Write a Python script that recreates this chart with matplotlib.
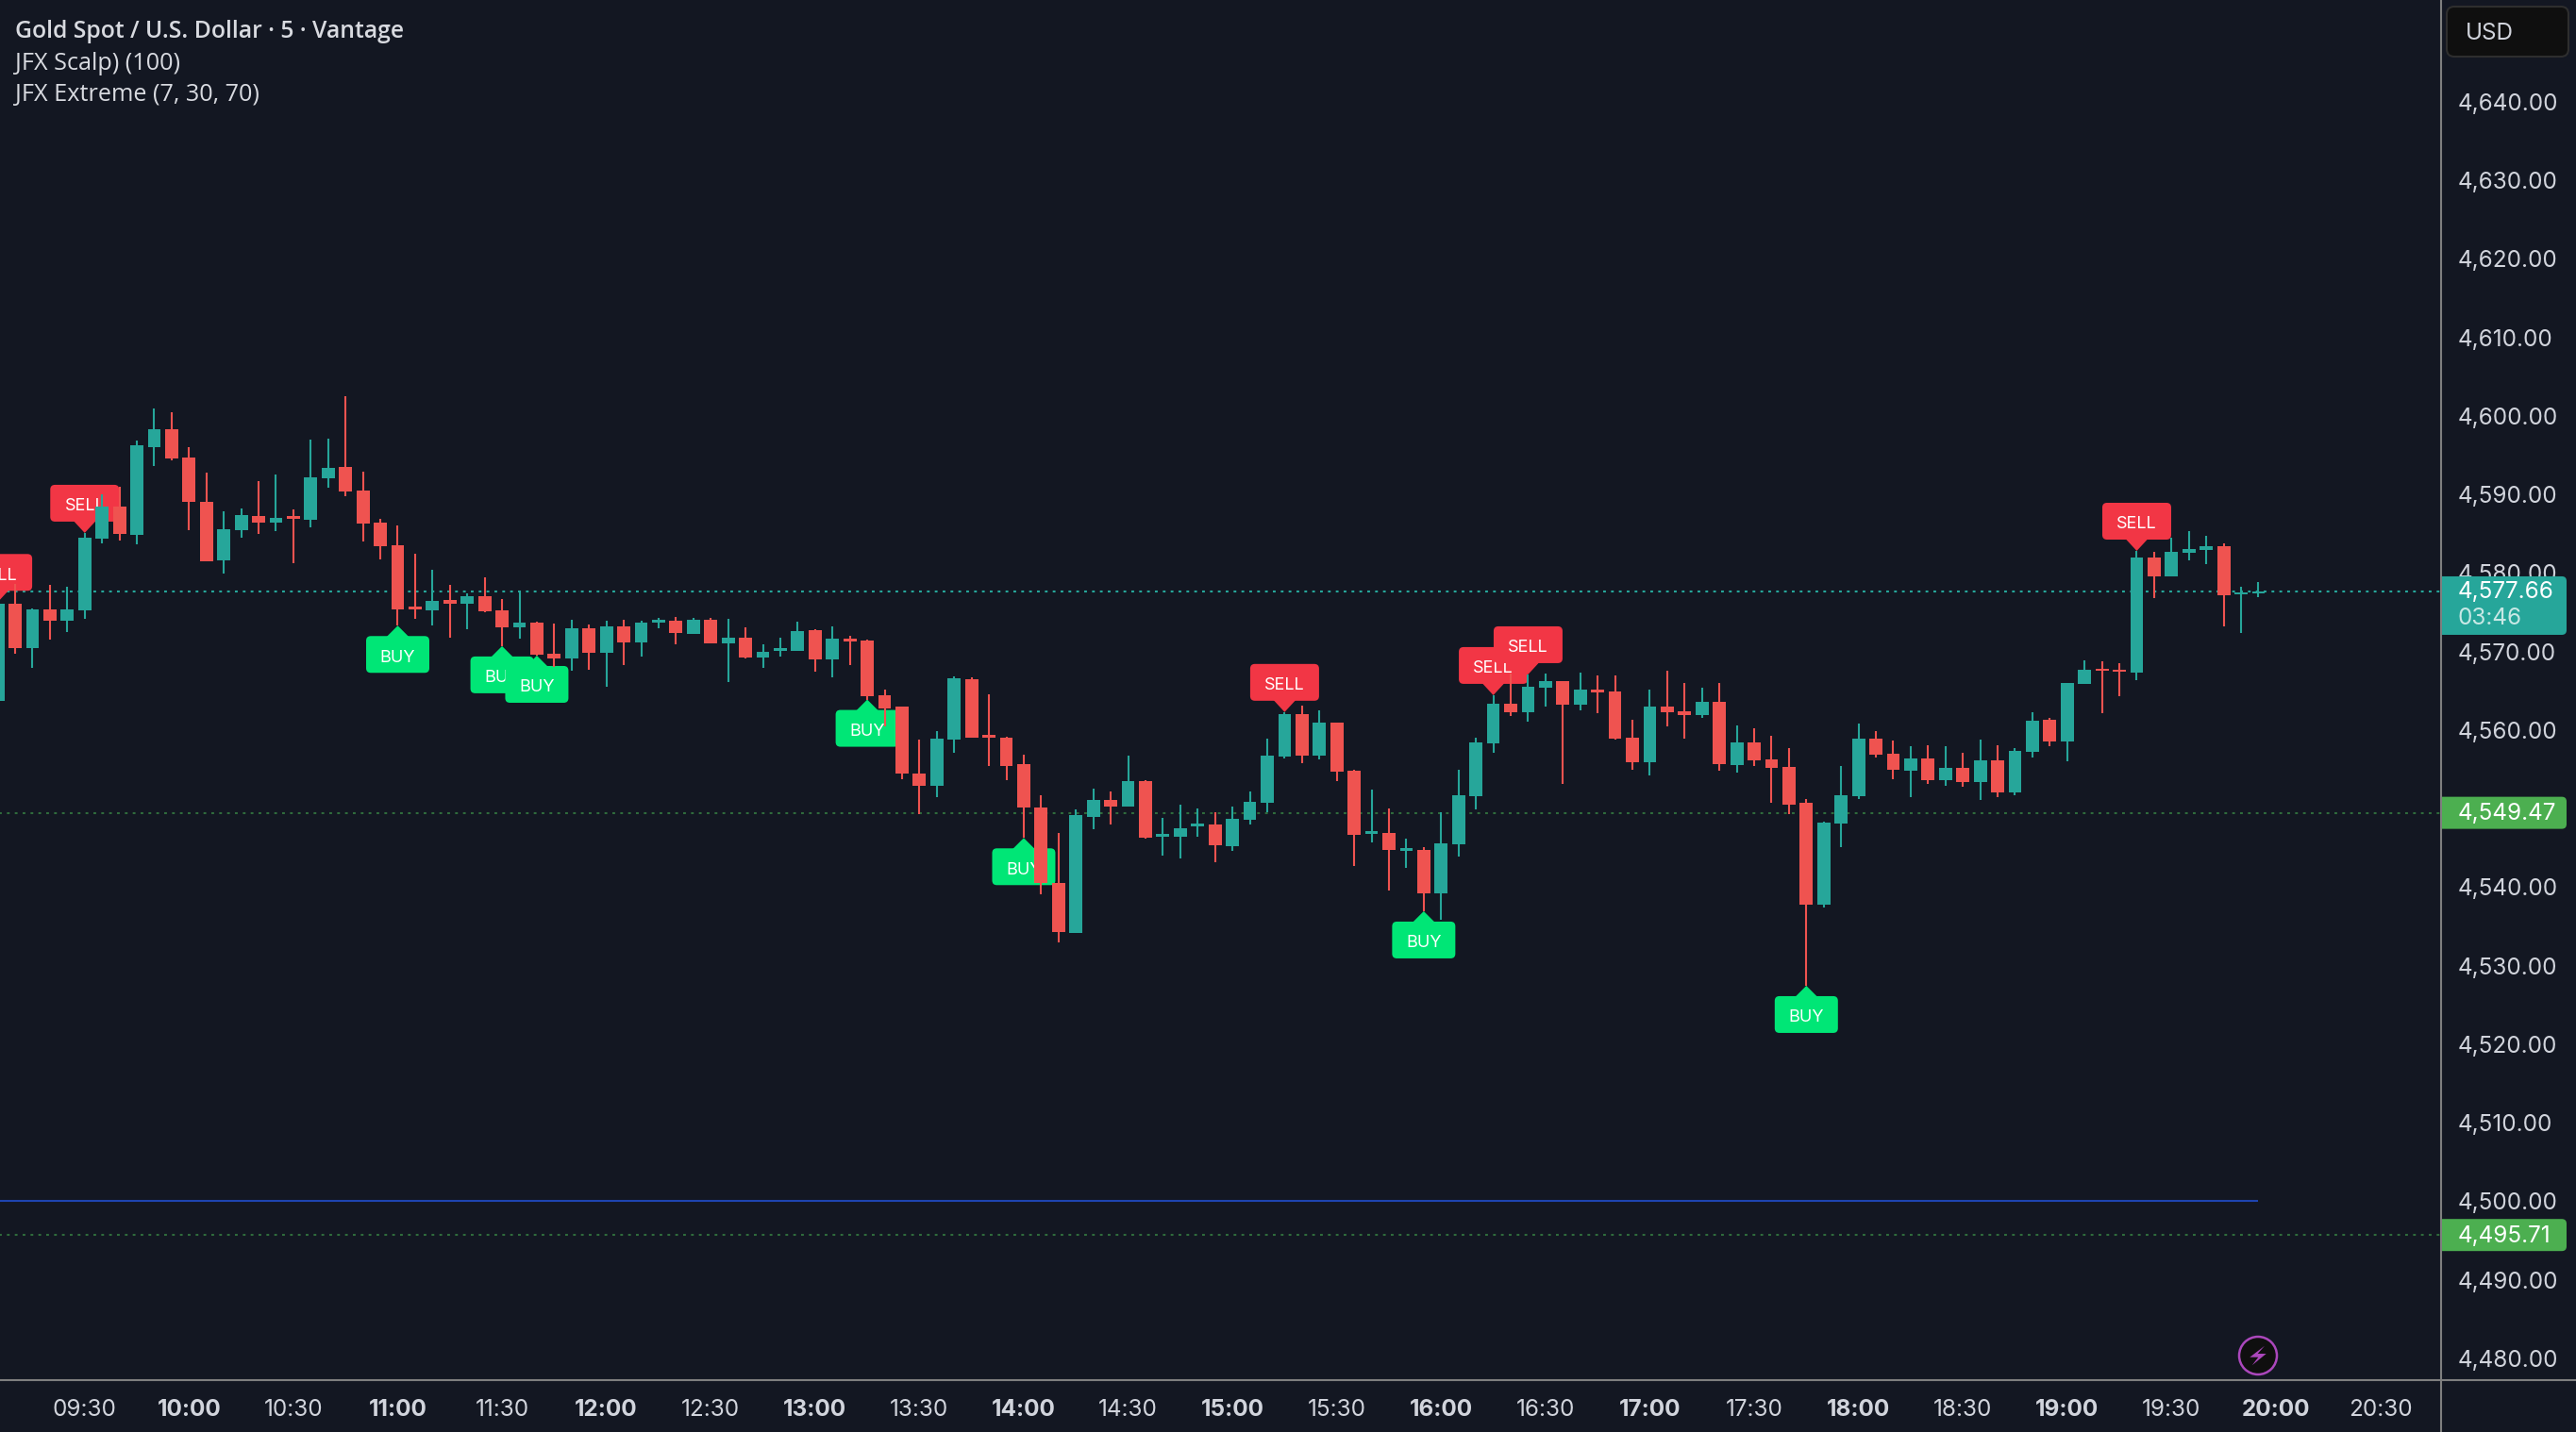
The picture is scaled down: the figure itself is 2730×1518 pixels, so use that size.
import matplotlib
matplotlib.use('Agg')
import matplotlib.pyplot as plt
from matplotlib.patches import FancyBboxPatch, Polygon, Circle
from matplotlib.transforms import Affine2D, Bbox

# 5 minute candles, 09:05 to 19:55
opens = [4563.77, 4576.10, 4570.46, 4575.38, 4573.94, 4575.26, 4584.39, 4588.47, 4584.87, 4596.04,
         4598.32, 4594.72, 4589.07, 4581.63, 4585.47, 4587.27, 4586.43, 4587.15, 4586.79, 4592.08,
         4593.52, 4590.52, 4586.43, 4583.55, 4575.62, 4575.26, 4576.58, 4576.10, 4577.06, 4575.26,
         4573.10, 4573.70, 4569.74, 4569.13, 4572.98, 4569.85, 4573.22, 4571.18, 4573.70, 4573.94,
         4572.25, 4574.06, 4571.05, 4571.77, 4569.25, 4570.09, 4570.09, 4572.73, 4569.01, 4571.65,
         4571.41, 4564.45, 4563.00, 4554.48, 4552.91, 4558.80, 4566.49, 4559.28, 4559.04, 4555.68,
         4550.15, 4540.54, 4534.18, 4548.95, 4551.11, 4550.27, 4553.52, 4546.43, 4546.43, 4547.75,
         4547.99, 4545.23, 4548.59, 4550.75, 4556.64, 4562.05, 4556.76, 4560.96, 4554.84, 4546.79,
         4546.91, 4544.63, 4544.75, 4539.22, 4545.47, 4551.60, 4558.32, 4563.37, 4562.29, 4565.41,
         4566.25, 4563.25, 4565.17, 4564.93, 4559.04, 4555.92, 4563.01, 4562.41, 4561.93, 4563.61,
         4555.56, 4558.44, 4556.28, 4555.32, 4550.75, 4537.78, 4548.11, 4551.60, 4558.92, 4557.00,
         4554.83, 4556.39, 4553.63, 4555.19, 4553.39, 4556.15, 4552.07, 4557.23, 4561.32, 4558.56,
         4565.88, 4567.80, 4567.68, 4567.32, 4581.98, 4579.58, 4582.58, 4582.94, 4583.42, 4577.29,
         4577.41]
highs = [4576.30, 4578.62, 4575.50, 4578.50, 4578.26, 4585.11, 4590.04, 4591.00, 4596.88, 4600.97,
         4600.49, 4596.04, 4592.80, 4587.87, 4588.23, 4591.72, 4592.56, 4588.11, 4597.00, 4597.12,
         4602.53, 4592.92, 4586.91, 4586.07, 4582.47, 4580.43, 4578.50, 4577.42, 4579.46, 4576.70,
         4577.78, 4573.82, 4573.58, 4574.06, 4573.46, 4573.94, 4574.06, 4573.94, 4574.30, 4574.42,
         4574.30, 4574.30, 4574.18, 4573.09, 4570.93, 4571.77, 4573.82, 4572.85, 4573.21, 4572.01,
         4571.53, 4565.17, 4563.00, 4558.80, 4559.88, 4566.85, 4566.73, 4564.57, 4559.16, 4556.88,
         4551.71, 4546.91, 4549.91, 4552.55, 4552.19, 4556.76, 4553.64, 4548.83, 4550.51, 4550.03,
         4549.55, 4550.27, 4552.19, 4558.92, 4562.30, 4563.13, 4562.53, 4560.96, 4554.96, 4552.44,
         4550.03, 4546.19, 4545.11, 4549.55, 4554.96, 4559.04, 4564.45, 4567.21, 4567.09, 4567.21,
         4566.25, 4567.33, 4566.97, 4566.97, 4561.33, 4565.17, 4567.57, 4566.01, 4565.41, 4566.01,
         4560.60, 4560.24, 4559.28, 4557.72, 4551.24, 4548.35, 4555.44, 4560.84, 4559.88, 4558.68,
         4557.96, 4558.08, 4557.96, 4557.11, 4558.80, 4558.08, 4557.72, 4562.28, 4561.56, 4566.00,
         4568.89, 4568.77, 4568.53, 4582.82, 4582.70, 4584.50, 4585.34, 4584.74, 4583.78, 4578.26,
         4578.86]
lows = [4563.50, 4569.74, 4567.93, 4571.54, 4572.50, 4574.18, 4583.79, 4584.15, 4583.67, 4593.64,
        4594.36, 4585.47, 4581.51, 4579.95, 4584.51, 4584.99, 4585.35, 4581.27, 4585.83, 4590.88,
        4589.79, 4584.03, 4581.75, 4573.30, 4574.18, 4573.34, 4571.78, 4572.86, 4575.02, 4570.70,
        4571.66, 4569.49, 4568.09, 4567.57, 4567.69, 4565.53, 4568.29, 4569.37, 4572.98, 4570.93,
        4572.25, 4571.05, 4566.13, 4569.13, 4567.93, 4569.37, 4570.09, 4567.45, 4566.73, 4568.29,
        4563.89, 4560.48, 4553.76, 4549.31, 4551.47, 4557.12, 4559.04, 4555.44, 4553.64, 4546.27,
        4539.10, 4532.97, 4534.18, 4547.39, 4547.99, 4550.27, 4546.19, 4544.03, 4543.67, 4546.43,
        4543.18, 4544.63, 4547.99, 4549.55, 4556.40, 4555.80, 4556.28, 4553.52, 4542.71, 4545.71,
        4539.58, 4542.47, 4536.94, 4535.86, 4543.91, 4549.91, 4557.12, 4561.81, 4561.08, 4563.01,
        4553.16, 4562.53, 4562.17, 4558.80, 4554.96, 4554.24, 4560.48, 4558.92, 4561.57, 4554.84,
        4554.60, 4555.44, 4550.75, 4549.31, 4527.45, 4537.42, 4545.11, 4551.24, 4556.52, 4553.76,
        4551.47, 4553.15, 4552.91, 4552.79, 4551.11, 4551.47, 4551.71, 4556.51, 4557.96, 4556.03,
        4565.88, 4562.16, 4564.32, 4566.36, 4576.81, 4579.58, 4581.62, 4581.14, 4573.21, 4572.37,
        4576.93]
closes = [4576.10, 4570.46, 4575.38, 4573.94, 4575.38, 4584.51, 4588.47, 4584.99, 4596.28, 4598.32,
          4594.60, 4589.07, 4581.51, 4585.59, 4587.39, 4586.43, 4587.03, 4586.91, 4592.20, 4593.40,
          4590.40, 4586.31, 4583.43, 4575.38, 4575.38, 4576.46, 4576.10, 4577.06, 4575.14, 4573.10,
          4573.70, 4569.61, 4569.13, 4572.98, 4569.85, 4573.22, 4571.18, 4573.70, 4573.94, 4572.37,
          4574.06, 4571.05, 4571.77, 4569.25, 4569.97, 4570.33, 4572.61, 4569.01, 4571.65, 4571.29,
          4564.33, 4562.76, 4554.48, 4552.91, 4558.92, 4566.61, 4559.04, 4559.04, 4555.44, 4550.15,
          4540.54, 4534.30, 4549.19, 4551.11, 4550.27, 4553.52, 4546.31, 4546.67, 4547.51, 4547.99,
          4545.35, 4548.71, 4550.87, 4556.76, 4562.04, 4556.76, 4560.96, 4554.72, 4546.67, 4547.03,
          4544.75, 4544.87, 4539.22, 4545.59, 4551.72, 4558.44, 4563.37, 4562.29, 4565.53, 4566.25,
          4563.25, 4565.17, 4564.81, 4558.92, 4555.92, 4563.01, 4562.29, 4561.93, 4563.61, 4555.68,
          4558.44, 4556.16, 4555.20, 4550.51, 4537.78, 4548.23, 4551.72, 4558.92, 4556.88, 4554.96,
          4556.39, 4553.63, 4555.19, 4553.39, 4556.15, 4552.07, 4557.35, 4561.20, 4558.56, 4566.00,
          4567.68, 4567.56, 4567.44, 4581.98, 4579.58, 4582.70, 4583.06, 4583.42, 4577.17, 4577.53,
          4577.65]

# signal labels: candle number for each
sell_idx = [0, 5, 74, 86, 88, 123]
buy_idx = [23, 29, 31, 50, 59, 82, 104]

price_ticks = [4480, 4490, 4500, 4510, 4520, 4530, 4540, 4550, 4560, 4570, 4580,
               4590, 4600, 4610, 4620, 4630, 4640]
time_labels = ['09:30', '10:00', '10:30', '11:00', '11:30', '12:00', '12:30', '13:00', '13:30',
               '14:00', '14:30', '15:00', '15:30', '16:00', '16:30', '17:00', '17:30', '18:00',
               '18:30', '19:00', '19:30', '20:00', '20:30']
legend_lines = ['Gold Spot / U.S. Dollar · 5 · Vantage', 'JFX Scalp) (100)', 'JFX Extreme (7, 30, 70)']

last_price = 4577.66
countdown = '03:46'
upper_level = 4549.47
lower_level = 4495.71
blue_level = 4500

BG = '#131722'
TEAL = '#26a69a'
RED = '#ef5350'
SELL_RED = '#f23645'
BUY_GREEN = '#00e676'
BADGE_GREEN = '#4caf50'
TEXT = '#d1d4dc'
AXIS = '#7f7f7f'
UI_FONT = ['Inter', 'DejaVu Sans']
SCALE_SIZE = 17.5

W, H = 2730, 1518
fig = plt.figure(figsize=(W / 100, H / 100), dpi=100, facecolor=BG)
ax = fig.add_axes([0, (H - 1462.7) / H, 2587 / W, 1462.7 / H], facecolor=BG)
ax.set_xlim(0.13, 140.5)
ax.set_ylim(4477.27, 4652.97)

# pixels from the top left corner
px = Affine2D().scale(1, -1).translate(0, H)


def to_px(i, price):
    x, y = ax.transData.transform((i, price))
    return x, H - y


# levels
ax.hlines(last_price, 0, 141, color=TEAL, lw=1.5, linestyles=(0, (1.4, 2.6)), zorder=1)
ax.hlines([upper_level, lower_level], 0, 141, color='#2f6b3c', lw=1.5, linestyles=(0, (1.4, 2.6)), zorder=1)
ax.hlines(blue_level, 0, 130, color='#1e44b0', lw=1.5, zorder=1)

# signals sit below the candles, later ones over earlier ones
order = sorted([(i, 's') for i in sell_idx] + [(i, 'b') for i in buy_idx])
for n, (i, kind) in enumerate(order):
    z = 2 + n * 0.01
    if kind == 's':
        x, tip = to_px(i, highs[i])
        w, box_h = 73, 39
        top = tip - 12 - box_h
        tri = [(x - 12, top + box_h - 1), (x + 12, top + box_h - 1), (x, tip)]
        color, label = SELL_RED, 'SELL'
    else:
        x, tip = to_px(i, lows[i])
        w, box_h = 67, 39
        top = tip + 11
        tri = [(x - 12, top + 1), (x + 12, top + 1), (x, tip)]
        color, label = BUY_GREEN, 'BUY'
    ax.add_patch(Polygon(tri, closed=True, fc=color, ec='none', transform=px, zorder=z, clip_on=True))
    ax.add_patch(FancyBboxPatch((x - w / 2 + 4, top + 4), w - 8, box_h - 8, boxstyle='round,pad=4,rounding_size=5',
                                fc=color, ec='none', transform=px, zorder=z))
    ax.text(x, top + box_h / 2 + 3.5, label, color='white', fontsize=13, ha='center', va='center',
            family=UI_FONT, transform=px, zorder=z + 0.001)

# candles
xs = list(range(len(opens)))
colors = [TEAL if c >= o else RED for o, c in zip(opens, closes)]
ax.vlines(xs, lows, highs, colors=colors, lw=1.5, zorder=3)
bottoms = [min(o, c) for o, c in zip(opens, closes)]
heights = [max(abs(c - o), 0.3) for o, c in zip(opens, closes)]
ax.bar(xs, heights, bottom=bottoms, width=0.75, color=colors, linewidth=0, zorder=3.1)

# axes
ax.yaxis.tick_right()
ax.set_yticks(price_ticks)
ax.set_yticklabels([f'{p:,.2f}' for p in price_ticks])
ax.set_xticks([5 + 6 * k for k in range(len(time_labels))])
ax.set_xticklabels(time_labels)
ax.tick_params(axis='y', length=0, pad=13, labelsize=SCALE_SIZE, labelcolor=TEXT)
ax.tick_params(axis='x', length=0, pad=14.5, labelsize=SCALE_SIZE, labelcolor=TEXT)
for lab in ax.get_yticklabels():
    lab.set_family(UI_FONT)
for lab in ax.get_xticklabels():
    lab.set_family(UI_FONT)
    if lab.get_text().endswith(':00'):
        lab.set_fontweight('bold')
for side in ['top', 'left', 'right', 'bottom']:
    ax.spines[side].set_visible(False)
ax.plot([2587, 2587], [0, H], color=AXIS, lw=1.5, transform=px, clip_on=False, zorder=9)
ax.plot([0, W], [1462.7, 1462.7], color=AXIS, lw=1.5, transform=px, clip_on=False, zorder=9)

# price badges on the scale
scale_clip = Bbox([[2588, 0], [W, H]])


def badge(y0, y1, color):
    b = FancyBboxPatch((2570, y0 + 4), 146, y1 - y0 - 8, boxstyle='round,pad=4,rounding_size=5', fc=color, ec='none',
                       transform=px, zorder=10)
    ax.add_patch(b)
    b.set_clip_box(scale_clip)


y_last = to_px(0, last_price)[1]
badge(y_last - 16, y_last + 46, TEAL)
ax.text(2605, y_last + 1, f'{last_price:,.2f}', color='white', fontsize=SCALE_SIZE, va='center', family=UI_FONT,
        transform=px, zorder=11, clip_on=False)
ax.text(2605, y_last + 29, countdown, color='white', alpha=0.75, fontsize=SCALE_SIZE, va='center', family=UI_FONT,
        transform=px, zorder=11, clip_on=False)
for level in [upper_level, lower_level]:
    y = to_px(0, level)[1]
    badge(y - 17, y + 17, BADGE_GREEN)
    ax.text(2605, y + 1, f'{level:,.2f}', color='white', fontsize=SCALE_SIZE, va='center', family=UI_FONT,
            transform=px, zorder=11, clip_on=False)

# currency button
ax.add_patch(FancyBboxPatch((2601, 15), 113, 37, boxstyle='round,pad=8,rounding_size=8', fc='#0f0f0f', ec='#2e2e2e',
                            lw=1.5, transform=px, zorder=10, clip_on=False))
ax.text(2613, 35, 'USD', color=TEXT, fontsize=SCALE_SIZE, va='center', family=UI_FONT, transform=px, zorder=11, clip_on=False)

# lightning icon
ax.add_patch(Circle((2393, 1437), 20, fc='#0f0f0f', ec='#ab47bc', lw=1.8, transform=px, zorder=10))
ax.add_patch(Polygon([(2400, 1426.7), (2384.3, 1438.7), (2393.3, 1438.7), (2386.7, 1447.3), (2401.7, 1435), (2392.7, 1435)],
                     closed=True, fc='#ab47bc', ec='none', transform=px, zorder=11))

# legend
for n, (line, yy) in enumerate(zip(legend_lines, [33, 67, 101])):
    ax.text(16, yy, line, color='#d8dae0', fontsize=17.8 if n == 0 else 18.2, va='center',
            family=['Open Sans', 'DejaVu Sans'], fontweight='semibold' if n == 0 else 'normal',
            transform=px, zorder=12)

fig.savefig('out.png', dpi=100, facecolor=BG)
